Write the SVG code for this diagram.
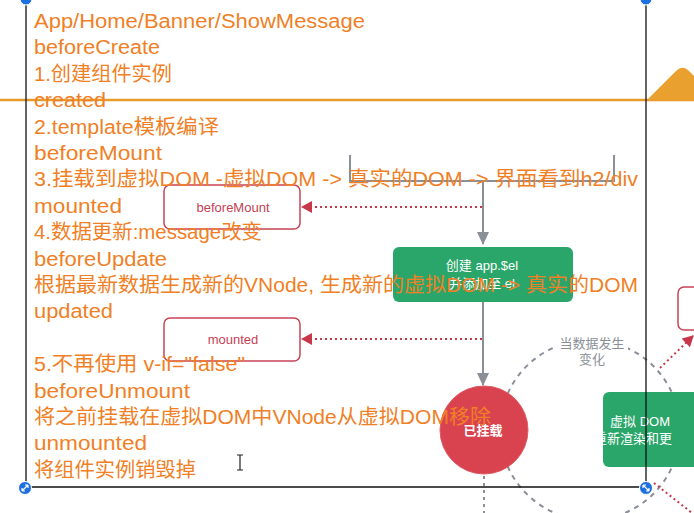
<svg xmlns="http://www.w3.org/2000/svg" width="694" height="513" viewBox="0 0 694 513">
<defs>
<style>
.note{font-family:"Liberation Sans","Noto Sans CJK SC",sans-serif;font-size:20px;fill:#f07f26}
.lbl{font-family:"Liberation Sans","Noto Sans CJK SC",sans-serif;font-size:13px;text-anchor:middle}
.hook{fill:#fff;stroke:#c94355;stroke-width:1.5}
.green{fill:#2aa66a}
.gline{stroke:#8a8f98;stroke-width:2;fill:none}
.rdot{stroke:#c8364a;stroke-width:2;stroke-dasharray:2 3;fill:none}
.frame{stroke:#111;stroke-width:1.3;fill:none}
.handle{fill:#1e6fe0;stroke:#fff;stroke-width:1}
</style>
<marker id="ga" markerWidth="14" markerHeight="12" refX="12" refY="6" orient="auto" markerUnits="userSpaceOnUse"><path d="M0,0 L13,6 L0,12 Z" fill="#8a8f98"/></marker>
<marker id="ra" markerWidth="12" markerHeight="12" refX="10" refY="6" orient="auto" markerUnits="userSpaceOnUse"><path d="M0,0 L11,6 L0,12 Z" fill="#c8364a"/></marker>
</defs>
<rect width="694" height="513" fill="#fff"/>

<g id="data-change-loop">
<circle cx="590" cy="430" r="90" fill="none" stroke="#8a8f98" stroke-width="2" stroke-dasharray="5 5"/>
<rect x="556" y="334" width="72" height="32" fill="#fff"/>
<text class="lbl" x="592" y="348" fill="#8a8f98" font-size="12">当数据发生</text>
<text class="lbl" x="592" y="364" fill="#8a8f98" font-size="12">变化</text>
</g>

<g id="connectors">
<path class="gline" d="M350,155 V181 H614 V155"/>
<path class="gline" d="M483,181 V244" marker-end="url(#ga)"/>
<path class="gline" d="M483,302 V385" marker-end="url(#ga)"/>
<path d="M484,476 V513" stroke="#8a8f98" stroke-width="2" stroke-dasharray="3 4" fill="none"/>
<path class="rdot" d="M482,207 H302" marker-end="url(#ra)"/>
<path class="rdot" d="M482,339 H302" marker-end="url(#ra)"/>
<path class="rdot" d="M660,368 L693,336" marker-end="url(#ra)"/>
<path class="rdot" d="M654,483 L692,513"/>
</g>

<g id="beforeMount">
<rect class="hook" x="164" y="185" width="136" height="44" rx="6"/>
<text class="lbl" x="233" y="212" fill="#c63f55">beforeMount</text>
</g>
<g id="mounted">
<rect class="hook" x="164" y="318" width="136" height="43" rx="6"/>
<text class="lbl" x="233" y="344" fill="#c63f55">mounted</text>
</g>
<g id="create-el">
<rect class="green" x="393" y="247" width="180" height="55" rx="6"/>
<text class="lbl" x="482" y="270" fill="#fff">创建 app.$el</text>
<text class="lbl" x="482" y="288" fill="#fff">并添加至 el</text>
</g>
<g id="mounted-state">
<circle cx="484" cy="430" r="44" fill="#d8434f" stroke="#e05a64" stroke-width="1"/>
<text class="lbl" x="483" y="435" fill="#fff" font-weight="bold">已挂载</text>
</g>
<g id="rerender">
<rect class="green" x="603" y="392" width="110" height="75" rx="6"/>
<text class="lbl" x="640" y="426" fill="#fff" font-size="14" text-anchor="start">虚拟 DOM</text>
<text class="lbl" x="633" y="443" fill="#fff" font-size="14" text-anchor="start">重新渲染和更</text>
</g>
<g id="right-hook">
<rect class="hook" x="678" y="287" width="40" height="43" rx="6"/>
</g>

<g id="overlay">
<line x1="0" y1="100" x2="694" y2="100" stroke="#e89b2a" stroke-width="2.5"/>
<path d="M647,100 L676,71 Q682,65 688,70 L694,76 V100 Z" fill="#e9a02e"/>
<path class="frame" d="M26,0 V487 H646 V0"/>
<circle class="handle" cx="26" cy="-1" r="6"/>
<circle class="handle" cx="646" cy="-1" r="6"/>
<circle class="handle" cx="25" cy="488" r="6.5"/>
<circle class="handle" cx="646" cy="488" r="6.5"/>
<path d="M22,491 L28,485 M22,491 v-3 M22,491 h3 M28,485 v3 M28,485 h-3" stroke="#fff" stroke-width="1.2" fill="none"/>
<path d="M643,485 L649,491 M643,485 v3 M643,485 h3 M649,491 v-3 M649,491 h-3" stroke="#fff" stroke-width="1.2" fill="none"/>
<path d="M237,455 h6 M240,455 v15 M237,470 h6" stroke="#222" stroke-width="1.2" fill="none"/>
</g>

<g id="notes">
<text class="note" x="34" y="28" textLength="331" lengthAdjust="spacingAndGlyphs">App/Home/Banner/ShowMessage</text>
<text class="note" x="34" y="54.4" textLength="126" lengthAdjust="spacingAndGlyphs">beforeCreate</text>
<text class="note" x="34" y="80.8" textLength="138" lengthAdjust="spacingAndGlyphs">1.创建组件实例</text>
<text class="note" x="34" y="107.2" textLength="72" lengthAdjust="spacingAndGlyphs">created</text>
<text class="note" x="34" y="133.6" textLength="185" lengthAdjust="spacingAndGlyphs">2.template模板编译</text>
<text class="note" x="34" y="160" textLength="128" lengthAdjust="spacingAndGlyphs">beforeMount</text>
<text class="note" x="34" y="186.4" textLength="604" lengthAdjust="spacingAndGlyphs">3.挂载到虚拟DOM -虚拟DOM -&gt; 真实的DOM -&gt; 界面看到h2/div</text>
<text class="note" x="34" y="212.8" textLength="88" lengthAdjust="spacingAndGlyphs">mounted</text>
<text class="note" x="34" y="239.2" textLength="228" lengthAdjust="spacingAndGlyphs">4.数据更新:message改变</text>
<text class="note" x="34" y="265.6" textLength="133" lengthAdjust="spacingAndGlyphs">beforeUpdate</text>
<text class="note" x="34" y="292" textLength="604" lengthAdjust="spacingAndGlyphs">根据最新数据生成新的VNode, 生成新的虚拟DOM -&gt; 真实的DOM</text>
<text class="note" x="34" y="318.4" textLength="79" lengthAdjust="spacingAndGlyphs">updated</text>
<text class="note" x="34" y="371.2" textLength="211" lengthAdjust="spacingAndGlyphs">5.不再使用 v-if="false"</text>
<text class="note" x="34" y="397.6" textLength="156" lengthAdjust="spacingAndGlyphs">beforeUnmount</text>
<text class="note" x="34" y="424" textLength="457" lengthAdjust="spacingAndGlyphs">将之前挂载在虚拟DOM中VNode从虚拟DOM移除</text>
<text class="note" x="34" y="450.4" textLength="113" lengthAdjust="spacingAndGlyphs">unmounted</text>
<text class="note" x="34" y="476.8" textLength="162" lengthAdjust="spacingAndGlyphs">将组件实例销毁掉</text>
</g>
</svg>
